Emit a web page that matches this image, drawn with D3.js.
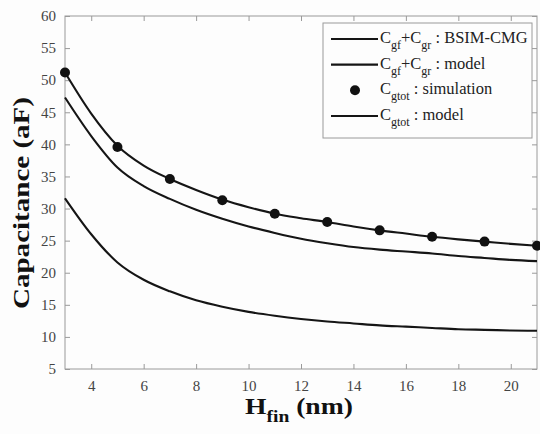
<!DOCTYPE html>
<html>
<head>
<meta charset="utf-8">
<script src="https://cdn.jsdelivr.net/npm/d3@7"></script>
<style>
  body { margin: 0; background: #fdfdfd; }
  svg { display: block; }
  svg text { font-family: 'Liberation Serif', 'Times New Roman', Times, 'DejaVu Serif', serif; }
  .tick-label { font-size: 15px; fill: #444; }
  .axis-title { font-weight: bold; fill: #111; }
  .legend-text { font-size: 16.5px; fill: #222; }
</style>
</head>
<body>
<script>
'use strict';

// fin height values (nm)
var hfin = [3, 4, 5, 6, 7, 8, 9, 10, 11, 12, 13, 14, 15, 16, 17, 18, 19, 20, 21];

// Cgtot : model (aF)
var cgtotModel = [51.2, 44.8, 39.8, 36.7, 34.6, 32.9, 31.4, 30.2, 29.2, 28.5, 27.9, 27.2,
    26.6, 26.1, 25.6, 25.2, 24.85, 24.5, 24.2];

// Cgf+Cgr : model (aF)
var cgfModel = [47.3, 41.3, 36.4, 33.5, 31.5, 29.8, 28.4, 27.2, 26.2, 25.3, 24.6, 24.0,
    23.6, 23.3, 23.0, 22.6, 22.3, 22.0, 21.8];

// Cgf+Cgr : BSIM-CMG (aF)
var cgfBsim = [31.6, 26.0, 21.6, 18.9, 17.1, 15.7, 14.7, 13.9, 13.3, 12.8, 12.4, 12.1,
    11.8, 11.6, 11.4, 11.2, 11.1, 11.0, 10.95];

// Cgtot : simulation points
var simH = [3, 5, 7, 9, 11, 13, 15, 17, 19, 21];
var simC = [51.2, 39.6, 34.6, 31.3, 29.2, 27.9, 26.6, 25.6, 24.85, 24.2];

// ticks
var xTicks = [4, 6, 8, 10, 12, 14, 16, 18, 20];
var yTicks = [5, 10, 15, 20, 25, 30, 35, 40, 45, 50, 55, 60];

// legend entries, text parts as [text, isSubscript]
var legendLabels = [
    [['C', 0], ['gf', 1], ['+C', 0], ['gr', 1], [' : BSIM-CMG', 0]],
    [['C', 0], ['gf', 1], ['+C', 0], ['gr', 1], [' : model', 0]],
    [['C', 0], ['gtot', 1], [' : simulation', 0]],
    [['C', 0], ['gtot', 1], [' : model', 0]]
];
var legendKinds = ['line', 'line', 'dot', 'line'];

var width = 540;
var height = 434;
var plot = {left: 65, right: 537, top: 16, bottom: 369};
var serif = "'Liberation Serif', 'Times New Roman', Times, serif";

var svg = d3.select('body').append('svg')
    .attr('width', width)
    .attr('height', height);

// scales
var x = d3.scaleLinear().domain([3, 21]).range([plot.left, plot.right]);
var y = d3.scaleLinear().domain([5, 60]).range([plot.bottom, plot.top]);

// frame box
svg.append('rect')
    .attr('x', plot.left)
    .attr('y', plot.top)
    .attr('width', plot.right - plot.left)
    .attr('height', plot.bottom - plot.top)
    .attr('fill', 'none')
    .attr('stroke', '#9a9a9a')
    .attr('stroke-width', 1);

// bottom axis with inward ticks
var xAxis = svg.append('g')
    .attr('transform', 'translate(0,' + plot.bottom + ')')
    .attr('font-family', serif)
    .call(d3.axisBottom(x).tickValues(xTicks).tickSizeInner(-5).tickSizeOuter(0).tickPadding(11));
xAxis.select('.domain').remove();
xAxis.selectAll('line').attr('stroke', '#9a9a9a');
xAxis.selectAll('text').attr('class', 'tick-label').attr('fill', null);

// top ticks
var xTop = svg.append('g')
    .attr('transform', 'translate(0,' + plot.top + ')')
    .call(d3.axisTop(x).tickValues(xTicks).tickSizeInner(-5).tickSizeOuter(0).tickFormat(''));
xTop.select('.domain').remove();
xTop.selectAll('line').attr('stroke', '#9a9a9a');

// left axis
var yAxis = svg.append('g')
    .attr('transform', 'translate(' + plot.left + ',0)')
    .attr('font-family', serif)
    .call(d3.axisLeft(y).tickValues(yTicks).tickSizeInner(-5).tickSizeOuter(0).tickPadding(9));
yAxis.select('.domain').remove();
yAxis.selectAll('line').attr('stroke', '#9a9a9a');
yAxis.selectAll('text').attr('class', 'tick-label').attr('fill', null);

// right ticks
var yRight = svg.append('g')
    .attr('transform', 'translate(' + plot.right + ',0)')
    .call(d3.axisRight(y).tickValues(yTicks).tickSizeInner(-5).tickSizeOuter(0).tickFormat(''));
yRight.select('.domain').remove();
yRight.selectAll('line').attr('stroke', '#9a9a9a');

// curves
var line = d3.line()
    .x(function(d) { return x(d[0]); })
    .y(function(d) { return y(d[1]); })
    .curve(d3.curveMonotoneX);

[cgtotModel, cgfModel, cgfBsim].forEach(function(series) {
    svg.append('path')
        .datum(hfin.map(function(h, i) { return [h, series[i]]; }))
        .attr('fill', 'none')
        .attr('stroke', '#151515')
        .attr('stroke-width', 2.1)
        .attr('d', line);
});

// simulation points
svg.selectAll('.sim')
    .data(simH.map(function(h, i) { return [h, simC[i]]; }))
    .enter().append('circle')
    .attr('class', 'sim')
    .attr('cx', function(d) { return x(d[0]); })
    .attr('cy', function(d) { return y(d[1]); })
    .attr('r', 5)
    .attr('fill', '#111');

// axis titles
svg.append('text')
    .attr('class', 'axis-title')
    .attr('transform', 'translate(29,203) rotate(-90)')
    .attr('text-anchor', 'middle')
    .attr('font-size', 24)
    .attr('textLength', 212)
    .attr('lengthAdjust', 'spacingAndGlyphs')
    .text('Capacitance (aF)');

var xt = svg.append('text')
    .attr('class', 'axis-title')
    .attr('transform', 'translate(245,414) scale(1.15,1)')
    .attr('font-size', 24);
xt.append('tspan').text('H');
xt.append('tspan').attr('font-size', 17).attr('dy', 8).text('fin');
xt.append('tspan').attr('dy', -8).text(' (nm)');

// legend
var legend = svg.append('g');
legend.append('rect')
    .attr('x', 323)
    .attr('y', 23)
    .attr('width', 209)
    .attr('height', 115)
    .attr('fill', '#fdfdfd')
    .attr('stroke', '#9a9a9a')
    .attr('stroke-width', 1);

var rowY = d3.scalePoint().domain(d3.range(legendLabels.length)).range([39, 116]);

legendLabels.forEach(function(parts, i) {
    var cy = rowY(i);
    if (legendKinds[i] === 'line') {
        legend.append('line')
            .attr('x1', 331).attr('x2', 378)
            .attr('y1', cy).attr('y2', cy)
            .attr('stroke', '#151515')
            .attr('stroke-width', 2.1);
    } else {
        legend.append('circle')
            .attr('cx', 355).attr('cy', cy)
            .attr('r', 5)
            .attr('fill', '#111');
    }
    var t = legend.append('text')
        .attr('class', 'legend-text')
        .attr('x', 380)
        .attr('y', cy + 4);
    var shifted = 0;
    parts.forEach(function(p) {
        var dy = p[1] ? 6 - shifted : -shifted;
        var ts = t.append('tspan').attr('dy', dy).text(p[0]);
        if (p[1]) {
            ts.attr('font-size', 12);
        }
        shifted = p[1] ? 6 : 0;
    });
});
</script>
</body>
</html>
